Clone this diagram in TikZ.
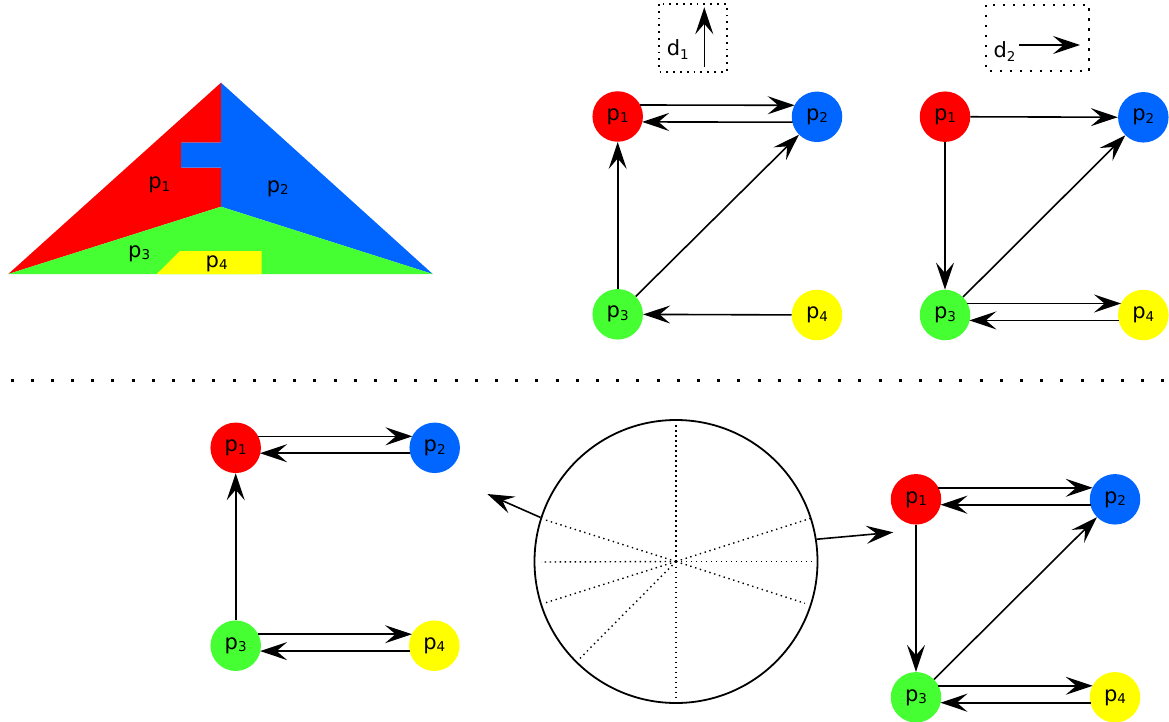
\documentclass[tikz,border=0pt]{standalone}
\usepackage{fontspec}
\setmainfont{DejaVu Sans}
\usetikzlibrary{arrows.meta,calc}
\definecolor{pred}{HTML}{FF0000}
\definecolor{pblue}{HTML}{0066FF}
\definecolor{pgreen}{HTML}{46FF33}
\definecolor{pyellow}{HTML}{FFFF00}
\newcommand{\mainfs}{\fontsize{21}{21}\selectfont}
\newcommand{\ps}[1]{p\raisebox{-2.5pt}{\fontsize{13.5}{13.5}\selectfont #1}}
\newcommand{\dsub}[1]{d\raisebox{-4pt}{\fontsize{13.5}{13.5}\selectfont #1}}
\tikzset{
  pn/.style={circle, minimum size=50.5pt, inner sep=0pt, font=\mainfs},
  lab/.style={inner sep=0pt, font=\mainfs},
  arr/.style={line width=1.6pt, -{Stealth[length=27pt,width=18pt,inset=10.5pt]}},
  dotbox/.style={line width=1.8pt, dash pattern=on 1.8pt off 5pt},
  dotbox2/.style={line width=2.2pt, dash pattern=on 2.2pt off 7.8pt},
  raddot/.style={line width=1.4pt, dash pattern=on 1.4pt off 3.6pt},
}
\begin{document}
\begin{tikzpicture}[x=1pt,y=-1pt]
\useasboundingbox (0,0) rectangle (1169,722);

% ---------- triangle ----------
\fill[pred] (8.3,274) -- (221,82.7) -- (221,142.7) -- (181,142.7) -- (181,167.7) -- (221,167.7) -- (221,206.7) -- cycle;
\fill[pblue] (221,82.7) -- (432.7,274) -- (221,206.7) -- (221,167.7) -- (181,167.7) -- (181,142.7) -- (221,142.7) -- cycle;
\fill[pgreen] (8.3,274) -- (221,206.7) -- (432.7,274) -- cycle;
\fill[pyellow] (156.7,274) -- (180,251) -- (261.7,251) -- (261.7,274) -- cycle;
\node[lab] (t1) at (159.3,185.3) {\ps{1}};
\node[lab] (t2) at (277.8,188.7) {\ps{2}};
\node[lab] (t3) at (139.2,253.8) {\ps{3}};
\node[lab] (t4) at (216.7,263.8) {\ps{4}};

% ---------- direction boxes ----------
\draw[dotbox] (659.3,4) rectangle (726.7,71.7);
\node[lab] (d1) at (677.8,49.8) {\dsub{1}};
\coordinate (d1s) at (704.3,66.7);
\coordinate (d1e) at (704.3,7.3);
\draw[arr] (d1s) -- (d1e);

\draw[dotbox2] (986,4.7) rectangle (1089.3,71);
\node[lab] (d2) at (1004.5,51.5) {\dsub{2}};
\coordinate (d2s) at (1019.3,45);
\coordinate (d2e) at (1080,45);
\draw[arr] (d2s) -- (d2e);

% ---------- graph a (top middle) ----------
\node[pn, fill=pred]    (a1) at (617.7,116.5) {\ps{1}};
\node[pn, fill=pblue]   (a2) at (817,116.8) {\ps{2}};
\node[pn, fill=pgreen]  (a3) at (617.7,314.3) {\ps{3}};
\node[pn, fill=pyellow] (a4) at (817,315) {\ps{4}};
\draw[arr] ($(a1)+(22.3,-11.5)$) -- ($(a2)+(-22.3,-11.5)$);
\draw[arr] ($(a2)+(-24.4,5.4)$) -- ($(a1)+(24.4,5.4)$);
\draw[arr] (a3.north) -- (a1.south);
\draw[arr] (a3) -- (a2);
\draw[arr] (a4) -- (a3);

% ---------- graph b (top right) ----------
\node[pn, fill=pred]    (b1) at (945,116.7) {\ps{1}};
\node[pn, fill=pblue]   (b2) at (1143.3,117.3) {\ps{2}};
\node[pn, fill=pgreen]  (b3) at (945,315) {\ps{3}};
\node[pn, fill=pyellow] (b4) at (1143.3,315) {\ps{4}};
\draw[arr] (b1) -- (b2);
\draw[arr] (b1.south) -- (b3.north);
\draw[arr] (b3) -- (b2);
\draw[arr] ($(b3)+(22.3,-11.5)$) -- ($(b4)+(-22.3,-11.5)$);
\draw[arr] ($(b4)+(-24.4,5.4)$) -- ($(b3)+(24.4,5.4)$);

% ---------- separator ----------
\coordinate (s1) at (10.5,380.5);
\coordinate (s2) at (1166,380.5);
\draw[line width=3pt, dash pattern=on 3pt off 17.19pt] (s1) -- (s2);

% ---------- graph c (bottom left) ----------
\node[pn, fill=pred]    (c1) at (235.7,447.8) {\ps{1}};
\node[pn, fill=pblue]   (c2) at (434.7,447.8) {\ps{2}};
\node[pn, fill=pgreen]  (c3) at (235.7,645.7) {\ps{3}};
\node[pn, fill=pyellow] (c4) at (434.3,645.7) {\ps{4}};
\draw[arr] ($(c1)+(22.3,-11.5)$) -- ($(c2)+(-22.3,-11.5)$);
\draw[arr] ($(c2)+(-24.4,5.4)$) -- ($(c1)+(24.4,5.4)$);
\draw[arr] (c3.north) -- (c1.south);
\draw[arr] ($(c3)+(22.3,-11.5)$) -- ($(c4)+(-22.3,-11.5)$);
\draw[arr] ($(c4)+(-24.4,5.4)$) -- ($(c3)+(24.4,5.4)$);

% ---------- circle ----------
\node[circle, draw, line width=1.8pt, minimum size=283pt, inner sep=0pt] (C) at (676,561.5) {};
\coordinate (r1) at (676,422);
\coordinate (r2) at (676,699);
\coordinate (r3) at (541,562);
\coordinate (r4) at (813,561.5);
\coordinate (r5) at (543.3,519.3);
\coordinate (r6) at (810,518.5);
\coordinate (r7) at (545.7,602.7);
\coordinate (r8) at (805,603.3);
\coordinate (r9) at (580,658.3);
\foreach \r in {r1,r2,r3,r4,r5,r6,r7,r8,r9} \draw[raddot] (C.center) -- (\r);
\coordinate (Lt) at (487.3,494);
\coordinate (Rt) at (893.3,532.3);
\draw[arr] (C.162.4) -- (Lt);
\draw[arr] (C.9.4) -- (Rt);

% ---------- graph e (bottom right) ----------
\node[pn, fill=pred]    (e1) at (916,499.3) {\ps{1}};
\node[pn, fill=pblue]   (e2) at (1115,499.3) {\ps{2}};
\node[pn, fill=pgreen]  (e3) at (916,697.3) {\ps{3}};
\node[pn, fill=pyellow] (e4) at (1115,697.3) {\ps{4}};
\draw[arr] ($(e1)+(22.3,-11.5)$) -- ($(e2)+(-22.3,-11.5)$);
\draw[arr] ($(e2)+(-24.4,5.4)$) -- ($(e1)+(24.4,5.4)$);
\draw[arr] (e1.south) -- (e3.north);
\draw[arr] (e3) -- (e2);
\draw[arr] ($(e3)+(22.3,-11.5)$) -- ($(e4)+(-22.3,-11.5)$);
\draw[arr] ($(e4)+(-24.4,5.4)$) -- ($(e3)+(24.4,5.4)$);
\end{tikzpicture}
\end{document}
